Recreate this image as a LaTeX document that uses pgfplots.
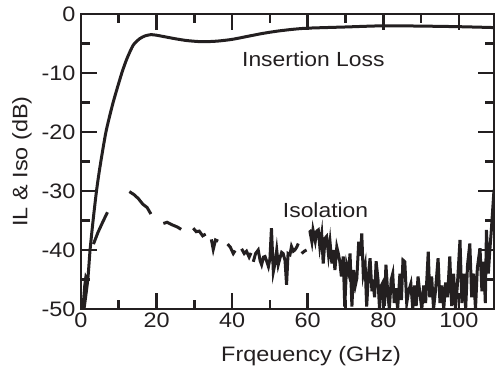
\documentclass[border=0pt]{standalone}
\usepackage{pgfplots}
\pgfplotsset{compat=1.18}
\usepackage{fontspec}
\setmainfont{Liberation Sans}[FakeStretch=1.12]
\definecolor{ink}{RGB}{35,31,32}
\begin{document}
\begin{tikzpicture}
\useasboundingbox (-81bp,-58bp) rectangle (414bp,309bp);
\begin{axis}[
  scale only axis,
  width=413bp, height=295bp,
  xmin=0, xmax=109.3, ymin=-50, ymax=0,
  xtick={0,20,40,60,80,100},
  xticklabels={0,20,40,60,80,100},
  ytick={-50,-40,-30,-20,-10,0},
  yticklabels={-50,-40,-30,-20,-10,0},
  minor x tick num=1, minor y tick num=1,
  tick align=inside, tick pos=both,
  xticklabel pos=bottom, yticklabel pos=left,
  major tick length=16bp, minor tick length=9bp,
  every tick/.style={ink, line width=2.6bp},
  axis line style={ink, line width=2.6bp},
  tick label style={font=\fontsize{21}{25}\selectfont, text=ink},
  yticklabel style={xshift=-2bp},
  label style={font=\fontsize{21}{25}\selectfont, text=ink},
  xlabel={Frqeuency (GHz)},
  ylabel={IL \& Iso (dB)},
  xlabel style={at={(axis description cs:0.557,-0.161)}, anchor=center},
  ylabel style={at={(axis description cs:-0.143,0.5)}, anchor=center},
  unbounded coords=jump,
  clip=true,
]
% Insertion loss
\addplot[ink, line width=3bp, smooth, tension=0.4] coordinates {
(0.8,-50) (1.8,-45) (2.4,-40) (3.2,-35) (4.1,-30) (5.0,-26) (6.6,-20)
(8.5,-15) (10.8,-10) (12.2,-7.5) (13.8,-5.3) (15.5,-4.2) (17,-3.7)
(18.5,-3.5) (20,-3.6) (22.5,-3.9) (25,-4.2) (28,-4.5) (32,-4.7)
(36,-4.6) (40,-4.3) (44,-3.8) (48,-3.3) (52,-2.9) (56,-2.6) (60,-2.4)
(70,-2.2) (80,-2.0) (90,-2.05) (100,-2.15) (109.3,-2.3)
};
% Isolation
\addplot[ink, line width=3bp] coordinates {
(0.5,-50) (1.0,-46) (1.3,-44.5) (1.8,-45) (2.0,nan)
(3.3,-39) (4.5,-37) (5.8,-35.2) (7,-33.6) (8,nan)
(12.8,-30.1) (14,-30.6) (15.2,-31.3) (16.3,-32.2) (17.5,-32.8) (18.5,-33.9) (19,nan)
(21.8,-35.5) (22.8,-35.3) (24,-35.7) (25.5,-36.1) (26.5,-36.5) (27,nan)
(29.7,-36.3) (30.5,-36.9) (31.3,-36.8) (32.2,-37.6) (33,-37.3) (33.5,nan)
(34.5,-38.2) (35,-39.9) (35.6,-38.3) (36.3,-38.5) (37,nan)
(38.8,-39.0) (39.5,-39.5) (40.3,-40.6) (40.8,-40.1) (41.5,nan)
(42.5,-39.8) (43.2,-40.6) (43.8,-40.2) (44.5,-41.2) (45,-40.5) (45.4,nan)
(45.6,-42) (46.2,-40.6) (46.9,-40) (47.4,-41.8) (47.8,-42.5) (48.3,-41.2) (48.7,-41.1)
(49.2,-42) (49.6,-42.8) (50.0,-41.5) (50.4,-36.3) (50.9,-43.7) (51.4,-42.1)
(51.8,-40) (52.2,-42.5) (52.6,-41.5) (53.1,-40.4) (53.5,-40.6) (54,-41.8)
(54.4,-45.9) (54.8,-40.6) (55.3,-40.8) (55.7,-39.4) (56.2,-40.2) (56.6,-40)
(57.1,-39.5) (57.5,-38.9) (57.9,nan)
(58.4,-40.6) (59.1,-40.2) (59.7,-40) (60.0,nan)
(60.4,-37) (60.6,-36.9) (61.1,-38.6) (61.4,-36.6) (62,-38.5) (62.4,-36.8)
(62.8,-36.6) (63.2,-39.4) (63.7,-37.3) (64.1,-42.3) (64.6,-38) (65,-37.7)
(65.5,-40.8) (65.9,-38.6) (66.4,-42.3) (66.8,-40) (67.2,-43.4) (67.7,-39.5)
(68.1,-40.6) (68.5,-42) (68.9,-44.5) (69.4,-41.1) (69.8,-49.6) (70.3,-42.5)
(70.8,-43.8) (71.2,-40.6) (71.7,-49.6) (72.1,-43.4) (72.6,-46) (73,-44.8)
(73.5,-38.6) (74,-41) (74.3,-37.2) (74.7,-44.1) (75.2,-42.5) (75.6,-49.6)
(76.1,-44) (76.5,-41.4) (77,-47) (77.2,-45) (77.7,-48) (78.1,-41.9)
(78.6,-45) (79,-50) (79.5,-46) (79.9,-45.5) (80.3,-49.5) (80.7,-42.5)
(81.2,-47.5) (81.6,-50) (82.1,-45) (82.5,-44) (82.9,-49) (83.3,-46.5)
(83.8,-50) (84.4,-44) (84.8,-48.5) (85.2,-41.7) (85.7,-42) (86.2,-49)
(86.7,-47) (87.3,-45.7) (87.8,-50) (88.3,-46) (88.7,-49.5) (89.2,-44.5)
(89.7,-47.5) (90.2,-50) (90.7,-46) (91.2,-49) (91.9,-40.3) (92.3,-48)
(92.8,-44.5) (93.3,-50) (93.8,-47) (94.5,-41.4) (95,-49) (95.5,-46)
(96,-50) (96.5,-45.5) (97,-48) (97.6,-41.1) (98.1,-49.5) (98.6,-44)
(99.1,-50) (99.6,-46) (100.3,-38.3) (100.8,-49) (101.3,-44) (101.8,-50)
(102.3,-42.5) (102.9,-38.9) (103.4,-48) (103.9,-44) (104.4,-50) (104.9,-43)
(105.6,-39.7) (106.1,-47) (106.6,-42) (107,-49) (107.3,-36.6) (107.8,-44)
(108.2,-40) (108.6,-36.6) (109.0,-32.7) (109.3,-29.8)
};
\node[anchor=base west, font=\fontsize{20.5}{24}\selectfont, text=ink, inner sep=0pt] at (axis cs:42.6,-8.9) {Insertion Loss};
\node[anchor=base west, font=\fontsize{20.5}{24}\selectfont, text=ink, inner sep=0pt] at (axis cs:53.4,-34.5) {Isolation};
\end{axis}
\end{tikzpicture}
\end{document}
